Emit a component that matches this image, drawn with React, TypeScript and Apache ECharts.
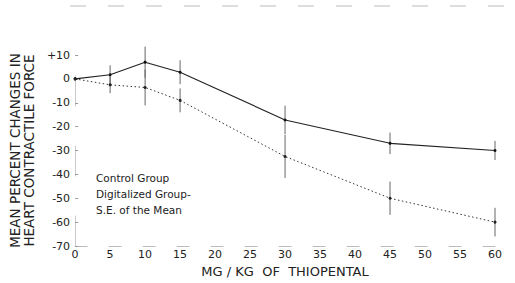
import React, { useEffect, useRef } from "react";
import * as echarts from "echarts";

const doses = [0, 5, 10, 15, 30, 45, 60];
const controlValues = [0, 1.7, 7, 2.8, -17.2, -27, -30];
const digitalizedValues = [0, -2.5, -3.6, -9, -32.5, -50, -60];
const controlSE = [0, 4, 6.5, 5, 6, 4.5, 4];
const digitalizedSE = [0, 3.5, 7.5, 5, 9, 7, 6];
const yTicks = [10, 0, -10, -20, -30, -40, -50, -60, -70];
const xTicks = [0, 5, 10, 15, 20, 25, 30, 35, 40, 45, 50, 55, 60];
const legendLabels = ["Control Group", "Digitalized Group-", "S.E. of the Mean"];

const FONT = "DejaVu Sans";

export default function App() {
  const ref = useRef<HTMLDivElement>(null);
  useEffect(() => {
    document.body.style.margin = "0";
    if (!ref.current) return;
    const chart = echarts.init(ref.current, null, { renderer: "svg" });
    const errData = (vals: number[], se: number[]) =>
      doses.map((d, i) => [d, vals[i] - se[i], vals[i] + se[i]]).filter((_, i) => se[i] > 0);
    const renderErr = (params: any, api: any) => {
      const x = api.value(0);
      const lo = api.coord([x, api.value(1)]);
      const hi = api.coord([x, api.value(2)]);
      return {
        type: "group",
        children: [
          {
            type: "line",
            shape: { x1: lo[0], y1: lo[1], x2: hi[0], y2: hi[1] },
            style: { stroke: "#666", lineWidth: 1 },
          },
        ],
      };
    };
    chart.setOption({
      animation: false,
      backgroundColor: "#fff",
      grid: { left: 73, right: 20, top: 55, bottom: 37 },
      xAxis: {
        type: "value",
        min: 0,
        max: 60,
        interval: 5,
        name: "MG / KG  OF  THIOPENTAL",
        nameLocation: "middle",
        nameGap: 19,
        nameTextStyle: { fontFamily: FONT, fontSize: 13, color: "#222" },
        axisLine: { show: true, onZero: false, lineStyle: { color: "#bbb", width: 1, type: [12, 22] } },
        axisTick: { show: false },
        splitLine: { show: false },
        axisLabel: {
          fontFamily: FONT,
          fontSize: 11,
          color: "#222",
          margin: 3,
          formatter: (v: number) => (xTicks.includes(v) ? String(v) : ""),
        },
      },
      yAxis: {
        type: "value",
        min: -70,
        max: 10,
        interval: 10,
        name: "MEAN PERCENT CHANGES IN\nHEART CONTRACTILE FORCE",
        nameLocation: "middle",
        nameGap: 32,
        nameRotate: 90,
        nameTextStyle: { fontFamily: FONT, fontSize: 13.5, color: "#222", lineHeight: 14 },
        axisLine: { show: true, onZero: false, lineStyle: { color: "#ccc", width: 1, type: [30, 40] } },
        axisTick: { show: true, inside: true, length: 3, lineStyle: { color: "#999" } },
        splitLine: { show: false },
        axisLabel: {
          fontFamily: FONT,
          fontSize: 11,
          color: "#222",
          margin: 5,
          formatter: (v: number) => (yTicks.includes(v) ? (v > 0 ? "+" + v : String(v)) : ""),
        },
      },
      series: [
        {
          type: "line",
          name: "Control Group",
          data: doses.map((d, i) => [d, controlValues[i]]),
          symbol: "circle",
          symbolSize: 3,
          itemStyle: { color: "#111" },
          lineStyle: { color: "#222", width: 1.1 },
        },
        {
          type: "line",
          name: "Digitalized Group",
          data: doses.map((d, i) => [d, digitalizedValues[i]]),
          symbol: "circle",
          symbolSize: 3,
          itemStyle: { color: "#222" },
          lineStyle: { color: "#333", width: 1, type: [1.5, 2.5] },
        },
        {
          type: "custom",
          name: "SE control",
          clip: false,
          renderItem: renderErr,
          data: errData(controlValues, controlSE),
          encode: { x: 0, y: [1, 2] },
          z: 1,
        },
        {
          type: "custom",
          name: "SE digitalized",
          clip: false,
          renderItem: renderErr,
          data: errData(digitalizedValues, digitalizedSE),
          encode: { x: 0, y: [1, 2] },
          z: 1,
        },
      ],
      graphic: [
        {
          type: "line",
          shape: { x1: 70, y1: 6, x2: 510, y2: 6 },
          style: { stroke: "#bbb", lineWidth: 1, lineDash: [16, 22] },
        },
        ...legendLabels.map((t, i) => ({
          type: "text",
          left: 96,
          top: 172 + i * 16,
          style: { text: t, fontFamily: FONT, fontSize: 10.5, fill: "#222" },
        })),
      ],
    });
    return () => chart.dispose();
  }, []);
  return <div ref={ref} style={{ width: 515, height: 283 }} />;
}
